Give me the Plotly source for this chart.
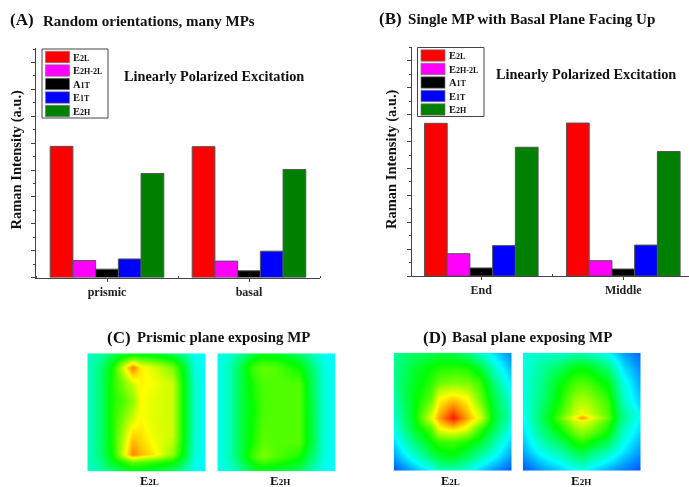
import plotly.graph_objects as go

W, H = 689, 487

legend_labels = ["E2L", "E2H-2L", "A1T", "E1T", "E2H"]
legend_subs = [("E", "2L"), ("E", "2H-2L"), ("A", "1T"), ("E", "1T"), ("E", "2H")]
colors = ["#ff0000", "#ff00ff", "#000000", "#0000ff", "#008000"]

cats_a = ["prismic", "basal"]
e2l_a = [4.88, 4.87]
e2h2l_a = [0.63, 0.61]
a1t_a = [0.31, 0.25]
e1t_a = [0.69, 0.98]
e2h_a = [3.87, 4.02]

cats_b = ["End", "Middle"]
e2l_b = [5.68, 5.69]
e2h2l_b = [0.83, 0.57]
a1t_b = [0.30, 0.26]
e1t_b = [1.13, 1.15]
e2h_b = [4.79, 4.63]

y_major_ticks = [0, 1, 2, 3, 4, 5, 6, 7, 8]

c1_x = [0, .1, .2, .38, .45, .56, .72, .82, .9, 1]
c1_y = [0, .12, .25, .40, .52, .70, .85, .92, 1]
map_c_e2l = [
    [.31, .33, .40, .47, .47, .46, .42, .34, .26, .25],
    [.31, .38, .50, .88, .77, .72, .62, .46, .28, .25],
    [.31, .38, .52, .70, .76, .74, .70, .48, .30, .25],
    [.31, .38, .52, .63, .75, .72, .70, .48, .30, .25],
    [.31, .38, .52, .69, .75, .72, .70, .48, .30, .25],
    [.31, .38, .52, .80, .78, .73, .70, .48, .30, .25],
    [.31, .38, .50, .87, .82, .77, .64, .46, .29, .25],
    [.31, .36, .46, .58, .57, .54, .50, .40, .27, .25],
    [.30, .33, .38, .46, .46, .44, .40, .32, .26, .25],
]
c2_x = [0, .1, .2, .3, .38, .5, .7, .8, .9, 1]
c2_y = [0, .12, .25, .5, .75, .87, 1]
map_c_e2h = [
    [.27, .29, .36, .44, .47, .47, .40, .32, .26, .25],
    [.27, .32, .44, .56, .60, .58, .50, .40, .28, .25],
    [.27, .32, .44, .52, .57, .58, .58, .42, .29, .25],
    [.27, .32, .44, .50, .57, .58, .58, .44, .29, .25],
    [.27, .32, .44, .52, .59, .58, .58, .44, .29, .25],
    [.27, .32, .44, .56, .62, .58, .52, .40, .28, .25],
    [.27, .29, .35, .43, .46, .45, .40, .32, .26, .25],
]
d1_x = [0, .15, .31, .38, .5, .62, .73, .85, 1]
d1_y = [0, .12, .25, .37, .55, .64, .75, .87, 1]
map_d_e2l = [
    [.36, .40, .42, .43, .43, .38, .30, .22, .13],
    [.36, .44, .50, .52, .53, .52, .44, .30, .17],
    [.36, .46, .54, .60, .63, .62, .56, .38, .22],
    [.34, .47, .58, .74, .78, .74, .60, .43, .27],
    [.30, .46, .72, .84, .98, .84, .72, .46, .30],
    [.27, .44, .58, .74, .78, .72, .56, .42, .25],
    [.22, .36, .50, .55, .56, .52, .46, .34, .20],
    [.16, .28, .40, .46, .48, .42, .34, .26, .15],
    [.08, .16, .24, .30, .32, .27, .20, .14, .08],
]
d2_x = [0, .15, .33, .44, .5, .57, .72, .85, 1]
d2_y = [0, .12, .25, .42, .52, .55, .58, .68, .82, 1]
map_d_e2h = [
    [.28, .30, .30, .32, .32, .31, .25, .16, .10],
    [.28, .34, .42, .48, .48, .47, .38, .22, .13],
    [.28, .36, .50, .57, .58, .56, .48, .28, .16],
    [.27, .38, .54, .66, .68, .66, .56, .32, .20],
    [.25, .40, .58, .70, .74, .70, .58, .36, .24],
    [.25, .40, .62, .76, .86, .76, .60, .36, .24],
    [.24, .40, .58, .70, .73, .70, .56, .35, .23],
    [.22, .36, .50, .60, .63, .60, .50, .30, .20],
    [.17, .28, .36, .44, .46, .42, .34, .24, .15],
    [.08, .14, .20, .24, .26, .22, .16, .12, .08],
]
jet = [[0, "#0000ff"], [.25, "#00ffff"], [.5, "#00ff00"], [.75, "#ffff00"], [1, "#ff0000"]]


def fx(p):
    return p / W


def fy(p):
    return 1 - p / H


def dom_x(a, b):
    return [fx(a), fx(b)]


def dom_y(top, bottom):
    return [fy(bottom), fy(top)]


fig = go.Figure()

panels = [
    (cats_a, [e2l_a, e2h2l_a, a1t_a, e1t_a, e2h_a], (36, 320), (48, 277.5), [-0.5, 1.5], 8.54),
    (cats_b, [e2l_b, e2h2l_b, a1t_b, e1t_b, e2h_b], (411.7, 689), (46.7, 276), [-0.49, 1.4627], 8.53),
]
for i, (cats, series, _, _, _, _) in enumerate(panels):
    sfx = "" if i == 0 else "2"
    for name, vals, col in zip(legend_labels, series, colors):
        fig.add_trace(go.Bar(x=list(range(len(cats))), y=vals, name=name, marker=dict(color=col, line=dict(color="#555555", width=1)),
                             xaxis="x" + sfx, yaxis="y" + sfx, showlegend=False))

layout = dict(
    width=W, height=H, autosize=False, margin=dict(l=0, r=0, t=0, b=0),
    paper_bgcolor="white", plot_bgcolor="white", barmode="group", bargap=0.2, bargroupgap=0,
    font=dict(family="Liberation Serif", color="#111111"), showlegend=False,
)
axis_style = dict(showgrid=False, zeroline=False, showline=True, linecolor="#444444", linewidth=1, mirror=False, ticks="outside", tickcolor="#444444", fixedrange=True)
for i, (cats, _, xdom, ydom, xrange, ytop) in enumerate(panels):
    sfx = "" if i == 0 else "2"
    layout["xaxis" + sfx] = dict(axis_style, domain=dom_x(*xdom), anchor="y" + sfx, range=xrange, type="linear",
                                 tickmode="array", tickvals=list(range(len(cats))), ticktext=[f"<b>{c}</b>" for c in cats],
                                 ticklen=3, tickfont=dict(size=12, family="Liberation Serif", color="#222222"),
                                 minor=dict(tickvals=[-0.5, 0.5, 1.5], ticks="inside", ticklen=2, tickcolor="#444444"))
    layout["yaxis" + sfx] = dict(axis_style, domain=dom_y(*ydom), anchor="x" + sfx, range=[0, ytop], tickmode="array", tickvals=y_major_ticks, ticktext=[""] * len(y_major_ticks), ticklen=4,
                                 minor=dict(dtick=0.5, ticklen=2, ticks="outside", tickcolor="#444444"))

# Heatmaps
maps = [
    (map_c_e2l, c1_x, c1_y, (87.3, 205.7), (353.3, 471.7)),
    (map_c_e2h, c2_x, c2_y, (217.3, 335), (353.3, 471.3)),
    (map_d_e2l, d1_x, d1_y, (393.7, 511.7), (352.7, 470.7)),
    (map_d_e2h, d2_x, d2_y, (522.7, 640.7), (352.7, 470.7)),
]
for i, (z, xs, ys, xd, yd) in enumerate(maps):
    n = i + 3
    fig.add_trace(go.Heatmap(z=z, x=xs, y=ys, colorscale=jet, zmin=0, zmax=1, zsmooth="best", showscale=False, hoverinfo="skip", xaxis=f"x{n}", yaxis=f"y{n}"))
    layout[f"xaxis{n}"] = dict(domain=dom_x(*xd), anchor=f"y{n}", visible=False, range=[0, 1], fixedrange=True)
    layout[f"yaxis{n}"] = dict(domain=dom_y(*yd), anchor=f"x{n}", visible=False, range=[1, 0], fixedrange=True)

annotations = []
shapes = []


def text(x, y, s, size, angle=0, anchor="left", color="#111111"):
    annotations.append(dict(x=fx(x), y=fy(y), xref="paper", yref="paper", text=s, showarrow=False, xanchor=anchor, yanchor="middle",
                            font=dict(size=size, family="Liberation Serif", color=color), textangle=angle, align="left"))


text(8, 20, "<b>(A)</b>", 17)
text(41, 20.5, "<b>Random orientations, many MPs</b>", 15)
text(377, 19, "<b>(B)</b>", 17)
text(406, 19, "<b>Single MP with Basal Plane Facing Up</b>", 15.1)
text(122, 76, "<b>Linearly Polarized Excitation</b>", 14.3)
text(494, 74, "<b>Linearly Polarized Excitation</b>", 14.3)
text(15.5, 160, "<b>Raman Intensity (a.u.)</b>", 14.5, angle=-90, anchor="center")
text(391, 159, "<b>Raman Intensity (a.u.)</b>", 14.5, angle=-90, anchor="center")
text(105, 337, "<b>(C)</b>", 17)
text(135, 337, "<b>Prismic plane exposing MP</b>", 14.9)
text(421, 337, "<b>(D)</b>", 17)
text(450, 337, "<b>Basal plane exposing MP</b>", 15)


def lab(main, sub, size):
    return f"<b>{main}<span style='font-size:{size}px'>{sub}</span></b>"


text(138, 480.5, lab("E", "2L", 9), 12.5)
text(268, 480.5, lab("E", "2H", 9), 13)
text(439, 480.5, lab("E", "2L", 9), 12.5)
text(569, 480.5, lab("E", "2H", 9), 13)

# Legend boxes
for (box_l, box_t, box_r, box_b, swatch_l, swatch_r, text_x, first_y, step) in [
    (42, 49, 108, 118, 45.5, 69.5, 71, 57, 13.5),
    (417.5, 47.5, 484, 116.5, 421, 445, 446.5, 55.5, 13.5),
]:
    shapes.append(dict(type="rect", xref="paper", yref="paper", x0=fx(box_l), x1=fx(box_r), y0=fy(box_b), y1=fy(box_t),
                       fillcolor="white", line=dict(color="#444444", width=1), layer="above"))
    for k, (col, (m, s)) in enumerate(zip(colors, legend_subs)):
        cy = first_y + k * step
        shapes.append(dict(type="rect", xref="paper", yref="paper", x0=fx(swatch_l), x1=fx(swatch_r), y0=fy(cy + 5.7), y1=fy(cy - 5.7),
                           fillcolor=col, line=dict(color="#777777", width=0.7), layer="above"))
        text(text_x, cy, lab(m, s, 8), 10.5)

layout["annotations"] = annotations
layout["shapes"] = shapes
fig.update_layout(**layout)
fig.write_html("out.html", post_script="document.body.style.margin='0';document.querySelector('.js-plotly-plot').style.filter='blur(0.5px)';", config={"displayModeBar": False})
